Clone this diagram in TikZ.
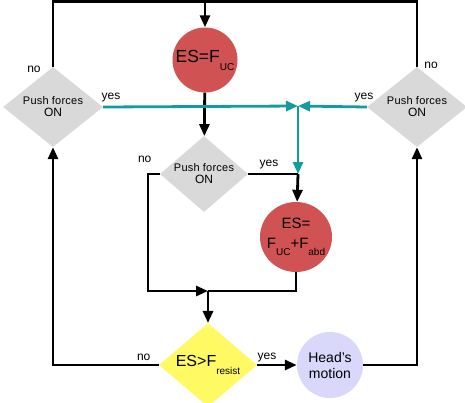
\documentclass[tikz,border=0pt]{standalone}
\usepackage{fontspec}
\setmainfont{Liberation Sans}
\newfontfamily\pushfont[LetterSpace=2]{Liberation Sans}
\usetikzlibrary{arrows.meta, shapes.geometric, positioning}
\definecolor{esred}{RGB}{209,82,82}
\definecolor{pushgray}{RGB}{217,217,217}
\definecolor{cmpyellow}{RGB}{255,250,100}
\definecolor{motionblue}{RGB}{218,216,250}
\definecolor{jointeal}{RGB}{20,155,155}
\newcommand{\lowsub}[2][7pt]{\raisebox{-#1}{\fontsize{10}{10}\selectfont #2}}
\newcommand{\pushtxt}{\fontsize{11}{16}\pushfont Push forces\\\fontsize{12}{16}\rmfamily ON}

\begin{document}
\begin{tikzpicture}[
    x=1pt, y=-1pt,
    pushdec/.style={diamond, fill=pushgray, inner xsep=-10pt, inner ysep=0pt, align=center,
        minimum width=100pt, minimum height=80pt},
    esnode/.style={ellipse, fill=esred, inner sep=0pt, align=center},
    cmpdec/.style={diamond, fill=cmpyellow, inner sep=0pt, align=center,
        minimum width=98pt, minimum height=72pt, font=\fontsize{16}{18}\selectfont},
    motion/.style={circle, fill=motionblue, inner sep=0pt, align=center,
        minimum size=66pt, font=\fontsize{14}{16}\selectfont},
    arrow/.style={-{Triangle[length=12pt,width=10pt]}, line width=2.8pt},
    link/.style={line width=2.8pt},
    tealarrow/.style={arrow, draw=jointeal},
    lab/.style={font=\fontsize{12}{13}\selectfont, inner sep=0pt}
]
    \useasboundingbox (0,0) rectangle (465,402);

    \node[esnode, circle, minimum size=65pt, font=\fontsize{17.5}{18}\selectfont]
        (es1) at (205,60) {ES=F\lowsub[8pt]{UC}};
    \node[pushdec] (ldec) at (53,107) {\pushtxt};
    \node[pushdec] (rdec) at (417,107) {\pushtxt};
    \node[pushdec, minimum width=88pt, minimum height=76pt] (mdec) at (204,174) {\pushtxt};
    \node[esnode, inner xsep=-8pt, minimum width=72pt, minimum height=70pt, font=\fontsize{15}{20}\selectfont]
        (es2) at (296,237) {ES=\\F\lowsub{UC}+F\lowsub{abd}};
    \node[cmpdec] (cmp) at (208,365) {ES>F\lowsub[8pt]{resist}};
    \node[motion] (head) at (330,365) {Head's\\motion};

    \coordinate (top)   at (205,1.5);
    \coordinate (jn)    at (298,106);
    \coordinate (bend)  at (298,174);
    \coordinate (merge) at (208,291);
    \coordinate (lbend) at (148,291);

    % outer loop over the top
    \draw[link] (ldec.north) node[lab, anchor=base east, xshift=-11pt, yshift=-6pt]{no} |- (top) -| (rdec.north)
        node[lab, anchor=base west, xshift=6pt, yshift=-2pt]{no};
    \draw[arrow] (top) -- (es1);
    \draw[arrow] (es1) -- (mdec);

    % yes branches to the junction
    \draw[tealarrow] (ldec.east) node[lab, anchor=base west, xshift=-3pt, yshift=8pt]{yes} -- (jn);
    \draw[tealarrow] (rdec.west) node[lab, anchor=base east, xshift=8pt, yshift=8pt]{yes} -- (jn);
    \draw[tealarrow] (jn) -- (bend);

    % middle decision
    \draw[link] (mdec.east) node[lab, anchor=base west, xshift=10pt, yshift=8pt]{yes} -- (bend);
    \draw[arrow] (bend) -- (es2);
    \draw[arrow] (mdec.west) node[lab, anchor=base east, xshift=-7pt, yshift=12pt]{no} -| (lbend) -- (merge);
    \draw[link] (es2.south) |- (merge);
    \draw[arrow] (merge) -- (cmp.north);

    % comparison and motion
    \draw[arrow] (cmp.west) node[lab, anchor=base east, xshift=-7pt, yshift=5pt]{no} -| (ldec.south);
    \draw[arrow] (cmp.east) node[lab, anchor=base west, xshift=-1pt, yshift=6pt]{yes} -- (head);
    \draw[arrow] (head.east) -| (rdec.south);
\end{tikzpicture}
\end{document}
